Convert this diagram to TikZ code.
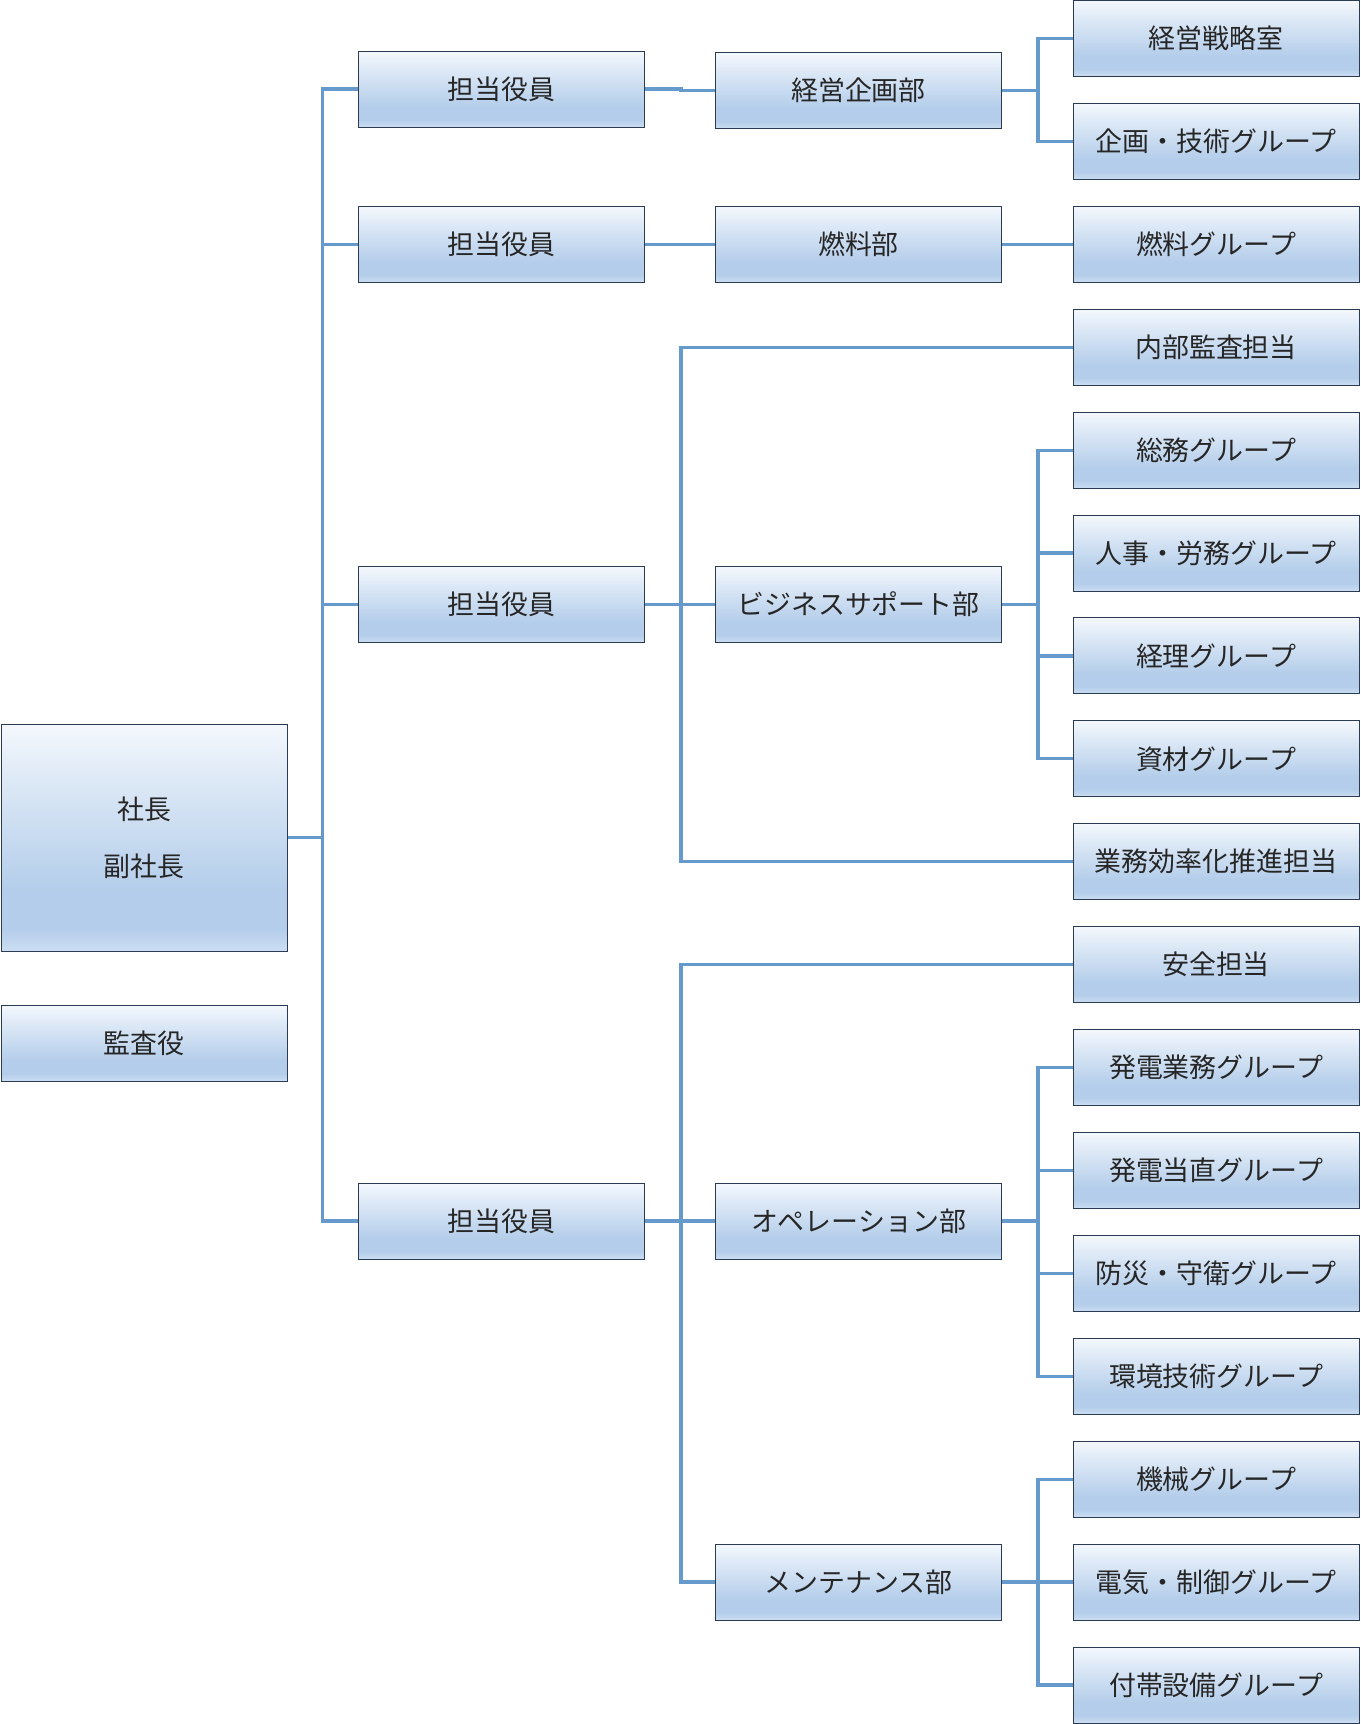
\documentclass[tikz,border=0pt]{standalone}
\usepackage{fontspec}
\setmainfont{Noto Sans CJK JP}
\definecolor{conncol}{HTML}{6699CC}
\definecolor{edgecol}{HTML}{2B3C52}
\definecolor{txtcol}{HTML}{262626}
\definecolor{gtop}{HTML}{F4F8FD}
\definecolor{gupper}{HTML}{DCE8F6}
\definecolor{gmid}{HTML}{B3CDEA}
\definecolor{gbot}{HTML}{CCDEF2}
\pgfdeclareverticalshading{boxshade}{100bp}{%
  color(0bp)=(gbot); color(25bp)=(gbot); color(30bp)=(gmid); color(38bp)=(gmid);
  color(62bp)=(gupper); color(75bp)=(gtop); color(100bp)=(gtop)}
\tikzset{
  orgbox/.style={draw=edgecol, line width=0.75pt, shading=boxshade,
    minimum width=286*0.75pt, minimum height=76*0.75pt, inner sep=0pt,
    text=txtcol, font=\fontsize{20.2}{42.75}\selectfont, align=center},
  conn/.style={draw=conncol, line width=2.4pt}
}
\begin{document}
\begin{tikzpicture}[x=0.75pt,y=-0.75pt]
\useasboundingbox (0,0) rectangle (1360,1724);
% left column
\node[orgbox, minimum height=227*0.75pt] (pres) at (144,837.5) {社長\\副社長};
\node[orgbox] (kansa) at (144,1043) {監査役};
% officers
\node[orgbox] (a1) at (501.5,89) {担当役員};
\node[orgbox] (a2) at (501.5,244.3) {担当役員};
\node[orgbox] (a3) at (501.5,604.5) {担当役員};
\node[orgbox] (a4) at (501.5,1221) {担当役員};
% departments
\node[orgbox] (d1) at (858.5,90.5) {経営企画部};
\node[orgbox] (d2) at (858.5,244.3) {燃料部};
\node[orgbox] (d3) at (858.5,604.5) {ビジネスサポート部};
\node[orgbox] (d4) at (858.5,1221) {オペレーション部};
\node[orgbox] (d5) at (858.5,1582) {メンテナンス部};
% groups
\node[orgbox] (g0) at (1216,38.5) {経営戦略室};
\node[orgbox] (g1) at (1216,141.4) {企画・技術グループ};
\node[orgbox] (g2) at (1216,244.3) {燃料グループ};
\node[orgbox] (g3) at (1216,347.2) {内部監査担当};
\node[orgbox] (g4) at (1216,450.1) {総務グループ};
\node[orgbox] (g5) at (1216,553) {人事・労務グループ};
\node[orgbox] (g6) at (1216,655.9) {経理グループ};
\node[orgbox] (g7) at (1216,758.8) {資材グループ};
\node[orgbox] (g8) at (1216,861.7) {業務効率化推進担当};
\node[orgbox] (g9) at (1216,964.6) {安全担当};
\node[orgbox] (g10) at (1216,1067.5) {発電業務グループ};
\node[orgbox] (g11) at (1216,1170.4) {発電当直グループ};
\node[orgbox] (g12) at (1216,1273.3) {防災・守衛グループ};
\node[orgbox] (g13) at (1216,1376.2) {環境技術グループ};
\node[orgbox] (g14) at (1216,1479.1) {機械グループ};
\node[orgbox] (g15) at (1216,1582) {電気・制御グループ};
\node[orgbox] (g16) at (1216,1685) {付帯設備グループ};
% level 1 bus
\draw[conn] (pres.east) -- ++(35,0) coordinate (b0);
\foreach \t in {a1,a2,a3,a4} \draw[conn] (b0) |- (\t.west);
% officer -> departments
\draw[conn] (a1.east) -- ++(36,0) |- (d1.west);
\draw[conn] (a2.east) -- (d2.west);
\draw[conn] (a3.east) -- ++(36,0) coordinate (b3);
\foreach \t in {g3,d3,g8} \draw[conn] (b3) |- (\t.west);
\draw[conn] (a4.east) -- ++(36,0) coordinate (b4);
\foreach \t in {g9,d4,d5} \draw[conn] (b4) |- (\t.west);
% departments -> groups
\draw[conn] (d1.east) -- ++(36,0) coordinate (c1);
\foreach \t in {g0,g1} \draw[conn] (c1) |- (\t.west);
\draw[conn] (d2.east) -- (g2.west);
\draw[conn] (d3.east) -- ++(36,0) coordinate (c3);
\foreach \t in {g4,g5,g6,g7} \draw[conn] (c3) |- (\t.west);
\draw[conn] (d4.east) -- ++(36,0) coordinate (c4);
\foreach \t in {g10,g11,g12,g13} \draw[conn] (c4) |- (\t.west);
\draw[conn] (d5.east) -- ++(36,0) coordinate (c5);
\foreach \t in {g14,g15,g16} \draw[conn] (c5) |- (\t.west);
\end{tikzpicture}
\end{document}
